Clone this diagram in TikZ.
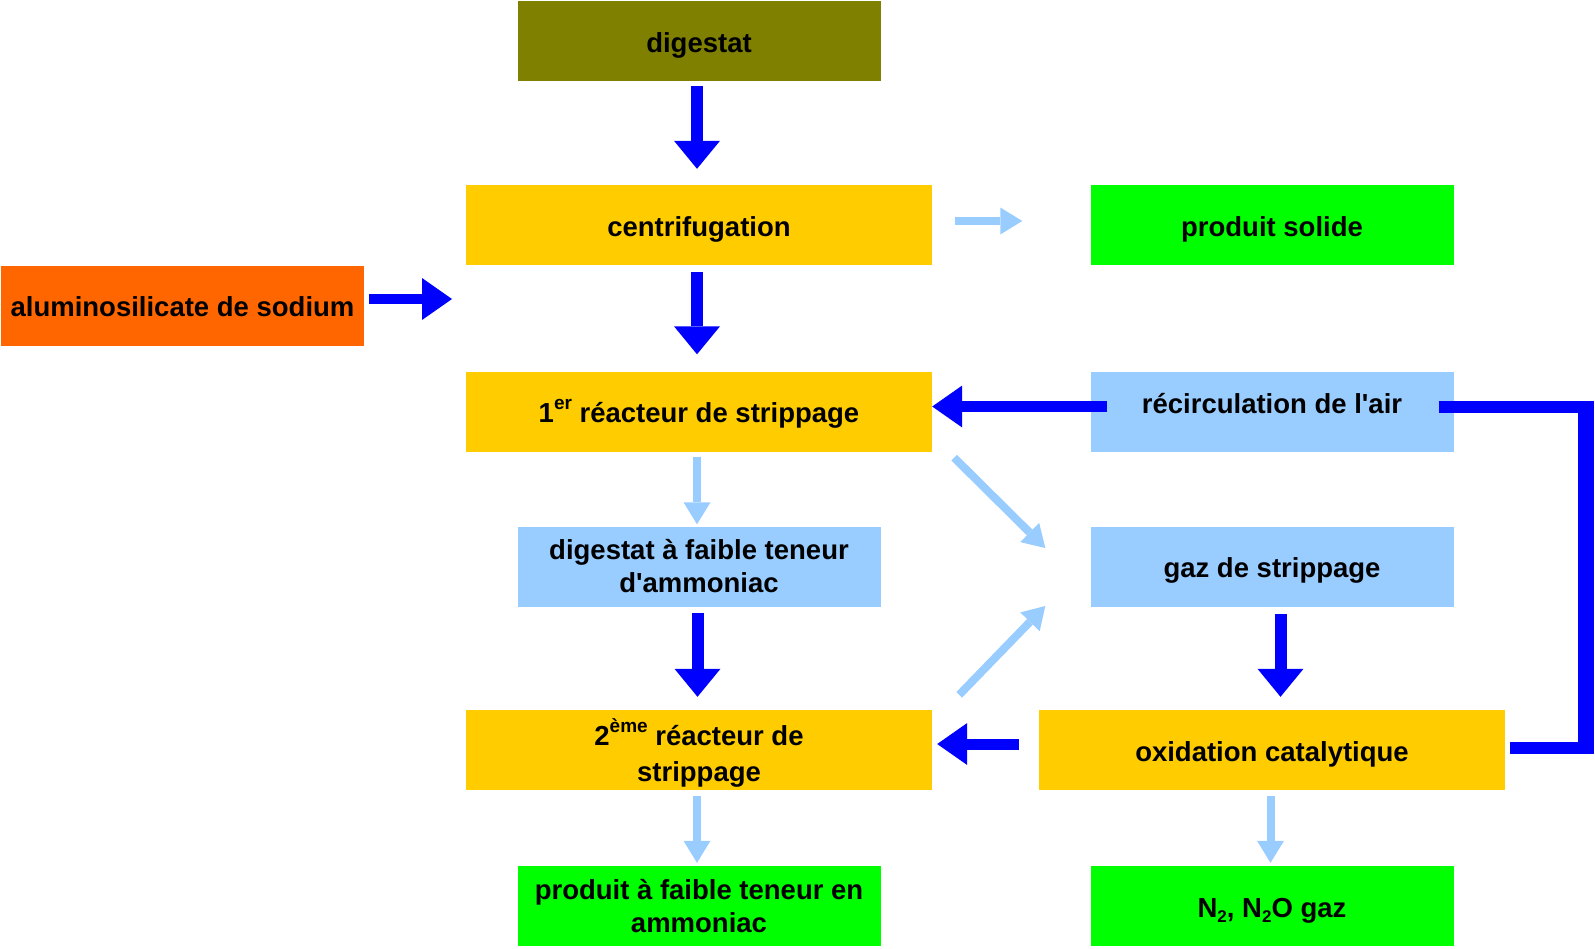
\documentclass[tikz,border=0pt]{standalone}
\usepackage{fontspec}
\newfontfamily\diagfont{Liberation Sans}
\usetikzlibrary{arrows.meta}

\definecolor{olivebox}{HTML}{808000}
\definecolor{yellowbox}{HTML}{FFCC00}
\definecolor{orangebox}{HTML}{FF6600}
\definecolor{greenbox}{HTML}{00FF00}
\definecolor{lightflow}{HTML}{99CCFF}
\definecolor{mainflow}{HTML}{0000FF}

% raised / lowered small text for ordinals and chemical indices
\newcommand\hsup[1]{\raisebox{13pt}{\fontsize{19pt}{19pt}\selectfont #1}}
\newcommand\lsub[1]{\raisebox{-5pt}{\fontsize{17pt}{17pt}\selectfont #1}}

\tikzset{
  box/.style={rectangle, inner sep=0pt, minimum height=80pt, align=center, text=black,
    font=\diagfont\bfseries\fontsize{27.5pt}{33pt}\selectfont},
  wbox/.style={box, minimum width=466pt},
  nbox/.style={box, minimum width=363pt},
  oneline/.style={text height=26pt, text depth=4pt},
  darr/.style={draw=mainflow, line width=12pt,
    -{Triangle[length=28pt,width=46pt,line width=0pt]}},
  darrh/.style={draw=mainflow, line width=11pt,
    -{Triangle[length=30pt,width=42pt,line width=0pt]}},
  larr/.style={draw=lightflow, line width=8pt,
    -{Triangle[length=22pt,width=27pt,line width=0pt]}},
  loopline/.style={draw=mainflow, line width=12pt, line join=miter},
}

\begin{document}
\begin{tikzpicture}[x=1pt,y=-1pt]
\useasboundingbox (0,0) rectangle (1595,948);

% process boxes
\node[nbox, oneline, fill=olivebox]  (dig)     at (699,41)      {digestat};
\node[wbox, oneline, fill=yellowbox] (cent)    at (699,225)     {centrifugation};
\node[nbox, oneline, fill=greenbox]  (solide)  at (1272,225)    {produit solide};
\node[nbox, oneline, fill=orangebox] (alu)     at (182.5,305.5) {aluminosilicate de sodium};
\node[wbox, oneline, fill=yellowbox] (r1)      at (699,411.5)   {1\hsup{er} réacteur de strippage};
\node[nbox, oneline, fill=lightflow] (recirc)  at (1272,411.5)  {\raisebox{9.5pt}[\height][\depth]{récirculation de l'air}};
\node[nbox, fill=lightflow]          (dfaible) at (699,566.5)   {digestat à faible teneur\\d'ammoniac};
\node[nbox, oneline, fill=lightflow] (gaz)     at (1272,566.5)  {gaz de strippage};
\node[wbox, fill=yellowbox]          (r2)      at (699,750)     {\rule{0pt}{33pt}2\hsup{ème} réacteur de\\[3pt]strippage};
\node[wbox, oneline, fill=yellowbox] (oxid)    at (1272,750)    {oxidation catalytique};
\node[nbox, fill=greenbox]           (pfaible) at (699,906)     {produit à faible teneur en\\ammoniac};
\node[nbox, oneline, fill=greenbox]  (n2)      at (1272,906)    {N\lsub{2}, N\lsub{2}O gaz};

\coordinate (aluend) at (452,299);

% main flow
\draw[darr] ([xshift=-2pt,yshift=-5pt]dig.south) -- ([xshift=-2pt,yshift=16pt]cent.north);
\draw[darr] ([xshift=-2pt,yshift=-7pt]cent.south) -- ([xshift=-2pt,yshift=17pt]r1.north);
\draw[darr] ([xshift=-1.5pt,yshift=-6pt]dfaible.south) -- ([xshift=-1.5pt,yshift=13pt]r2.north);
\draw[darr] ([xshift=8.5pt,yshift=-7pt]gaz.south) -- ([xshift=8.5pt,yshift=13pt]oxid.north);
\draw[darrh, line width=10pt] ([xshift=5pt,yshift=6.5pt]alu.east) -- (aluend);
\draw[darrh] ([xshift=17pt,yshift=5pt]recirc.west) -- ([yshift=5pt]r1.east);
\draw[darrh] ([xshift=-20pt,yshift=6pt]oxid.west) -- ([xshift=5pt,yshift=6pt]r2.east);

% air recirculation loop
\draw[loopline] ([xshift=-15pt,yshift=5pt]recirc.east) -| (1586,748) -- ([xshift=5pt,yshift=2pt]oxid.east);
\draw[draw=mainflow, line width=16pt] (1586,400.5) -- (1586,754);

% secondary flows
\draw[larr] ([xshift=23pt,yshift=4pt]cent.east) -- ([xshift=-68pt,yshift=4pt]solide.west);
\draw[larr] ([xshift=-2pt,yshift=-5pt]r1.south) -- ([xshift=-2pt,yshift=2pt]dfaible.north);
\draw[larr] ([xshift=-2pt,yshift=-6pt]r2.south) -- ([xshift=-2pt,yshift=3pt]pfaible.north);
\draw[larr] ([xshift=-1.5pt,yshift=-6pt]oxid.south) -- ([xshift=-1.5pt,yshift=3pt]n2.north);
\draw[larr] ([xshift=22pt,yshift=-6pt]r1.south east) -- ([xshift=-45pt,yshift=18.5pt]gaz.west);
\draw[larr] ([xshift=27pt,yshift=15pt]r2.north east) -- ([xshift=-45pt,yshift=-39.5pt]gaz.west);
\end{tikzpicture}
\end{document}
